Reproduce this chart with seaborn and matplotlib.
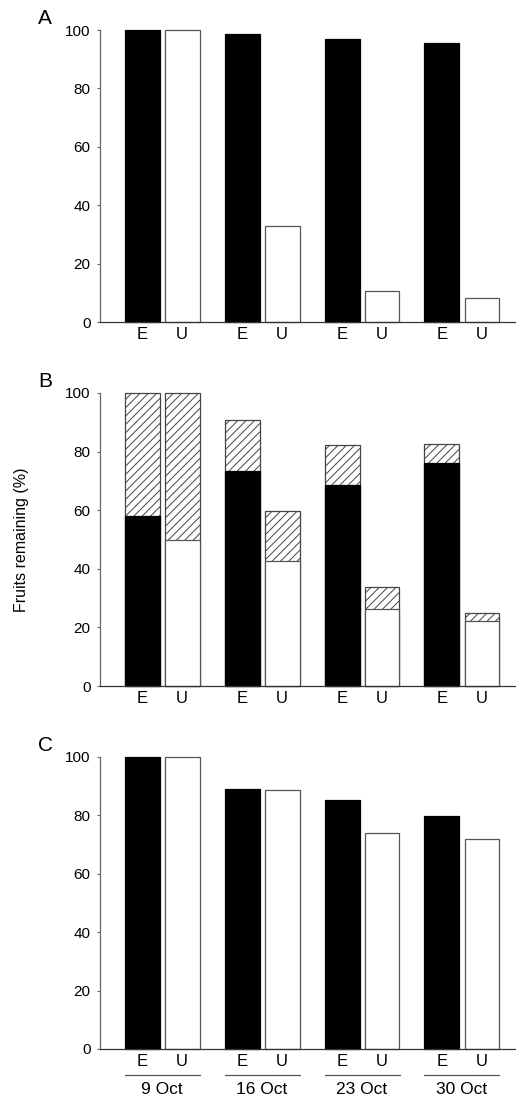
import numpy as np
import pandas as pd
import matplotlib
matplotlib.use("Agg")
import matplotlib.pyplot as plt
import seaborn as sns

# values
dates = ['9 Oct', '16 Oct', '23 Oct', '30 Oct']
treatments = ['E', 'U']

a_E = [100, 98.6, 96.9, 95.5]
a_U = [100, 32.8, 10.5, 8.1]

b_E_solid = [58.1, 73.3, 68.7, 76.1]
b_U_solid = [49.7, 42.8, 26.2, 22.3]
b_E_total = [100, 90.8, 82.2, 82.5]
b_U_total = [100, 59.7, 33.9, 24.8]

c_E = [100, 88.9, 85.2, 79.7]
c_U = [100, 88.6, 73.9, 71.8]

yticks = [0, 20, 40, 60, 80, 100]


def long_df(e_vals, u_vals):
    rows = []
    for d, e, u in zip(dates, e_vals, u_vals):
        rows.append({'date': d, 'trt': 'E', 'value': e})
        rows.append({'date': d, 'trt': 'U', 'value': u})
    return pd.DataFrame(rows)


sns.set_style('ticks')
plt.rcParams['font.family'] = ['Liberation Sans', 'DejaVu Sans']
plt.rcParams['hatch.linewidth'] = 0.7
plt.rcParams['text.color'] = 'black'
plt.rcParams['xtick.labelcolor'] = 'black'
plt.rcParams['ytick.labelcolor'] = 'black'
plt.rcParams['axes.labelcolor'] = 'black'

W, H = 516, 1097
fig = plt.figure(figsize=(W / 100, H / 100), dpi=100)

left = 100 / W
width = 1 - left
panels = [(30, 322, 'A'), (393, 686, 'B'), (757, 1049, 'C')]
axes = []
for top, bot, lab in panels:
    ax = fig.add_axes([left, 1 - bot / H, width, (bot - top) / H])
    axes.append(ax)

fill = {'E': 'black', 'U': 'white'}
edge = {'E': 'black', 'U': '#555555'}


def draw_bars(ax, df, palette, hatch=None, edges=None):
    sns.barplot(data=df, x='date', y='value', hue='trt', order=dates,
                hue_order=treatments, palette=palette, width=0.8, gap=0.125,
                errorbar=None, legend=False, ax=ax, saturation=1,
                linewidth=0.9)
    for trt, cont in zip(treatments, ax.containers[-2:]):
        for p in cont:
            p.set_edgecolor(edges[trt] if edges else edge[trt])
            if hatch:
                p.set_hatch(hatch)
            p.set_clip_on(False)


# panel A
draw_bars(axes[0], long_df(a_E, a_U), fill)

# panel B: hatched totals underneath, solid part on top
draw_bars(axes[1], long_df(b_E_total, b_U_total), {'E': 'white', 'U': 'white'},
          hatch='////', edges={'E': '#444444', 'U': '#444444'})
draw_bars(axes[1], long_df(b_E_solid, b_U_solid), fill)

# panel C
draw_bars(axes[2], long_df(c_E, c_U), fill)

for ax, (top, bot, lab) in zip(axes, panels):
    ax.set_ylim(0, 100)
    ax.set_xlim(-0.62, 3.54)
    ax.set_yticks(yticks)
    ax.set_yticklabels([str(t) for t in yticks], fontsize=11)
    cont = ax.containers[-2:]
    centers = sorted(p.get_x() + p.get_width() / 2 for c in cont for p in c)
    ax.set_xticks(centers)
    ax.set_xticklabels(treatments * len(dates), fontsize=12)
    ax.tick_params(axis='x', length=0, pad=3.5)
    ax.tick_params(axis='y', length=2.2, width=0.8, color='#666666', pad=4.5)
    ax.set_xlabel('')
    ax.set_ylabel('')
    sns.despine(ax=ax)
    ax.spines['left'].set_bounds(0, 100)
    ax.spines['left'].set_color('#666666')
    ax.spines['left'].set_linewidth(0.9)
    ax.spines['bottom'].set_color('#333333')
    ax.spines['bottom'].set_linewidth(0.9)
    fig.text(38 / W, 1 - (top - 21) / H, lab, fontsize=15, va='top', ha='left')

axes[1].set_ylabel('Fruits remaining (%)', fontsize=11.5, labelpad=26)

# date groups under panel C
axC = axes[2]
hC = 292.0
trans = axC.get_xaxis_transform()
e_bars = list(axC.containers[-2])
u_bars = list(axC.containers[-1])
for d, pe, pu in zip(dates, e_bars, u_bars):
    x0 = pe.get_x()
    x1 = pu.get_x() + pu.get_width()
    axC.plot([x0, x1], [-26 / hC, -26 / hC], color='#555555', lw=0.9,
             transform=trans, clip_on=False)
    axC.text((x0 + x1) / 2, -41 / hC, d, transform=trans, ha='center',
             va='center', fontsize=12.5)

fig.savefig('out.png', dpi=100)
